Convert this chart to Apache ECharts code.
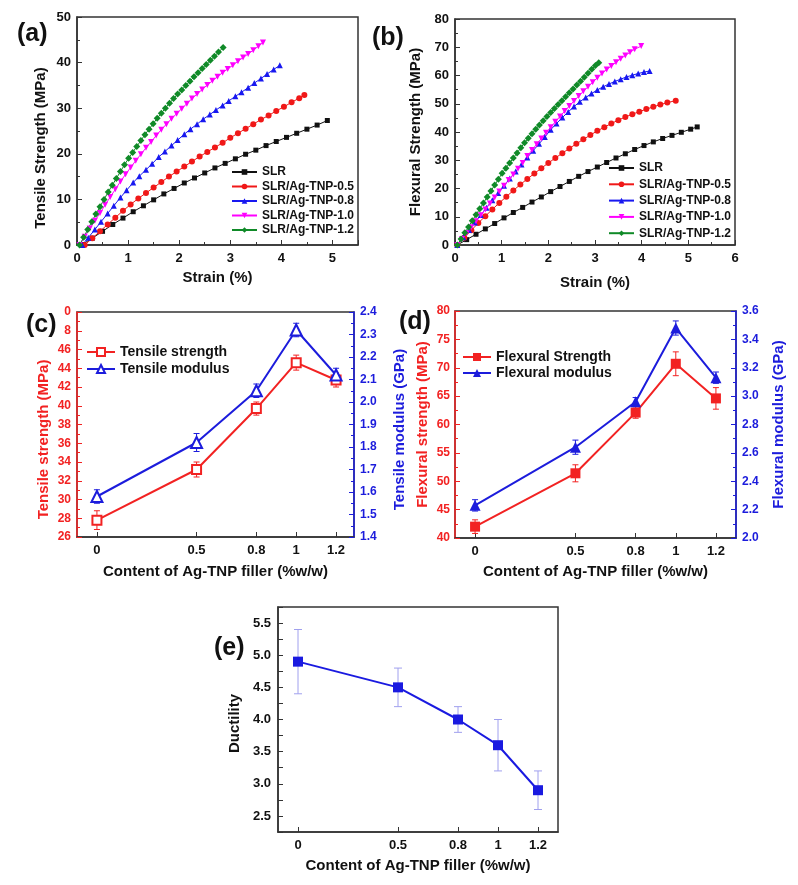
<!DOCTYPE html>
<html>
<head>
<meta charset="utf-8">
<script src="https://cdn.jsdelivr.net/npm/echarts@6/dist/echarts.min.js"></script>
<style>
  html, body { margin: 0; padding: 0; background: #fff; }
  #chart { width: 798px; height: 885px; }
</style>
</head>
<body>
<div id="chart"></div>
<script>
// (a) tensile stress-strain curves: [strain %, stress MPa]
const aSLR = [[0.1,0.1],[0.3,1.5],[0.5,3.0],[0.7,4.5],[0.9,5.9],[1.1,7.3],[1.3,8.6],[1.5,9.9],[1.7,11.2],[1.9,12.4],[2.1,13.6],[2.3,14.7],[2.5,15.8],[2.7,16.9],[2.9,17.9],[3.1,18.9],[3.3,19.9],[3.5,20.8],[3.7,21.8],[3.9,22.7],[4.1,23.6],[4.3,24.5],[4.5,25.4],[4.7,26.3],[4.9,27.3]];
const aAg05 = [[0.15,0.0],[0.3,1.5],[0.45,3.0],[0.6,4.5],[0.75,6.0],[0.9,7.5],[1.05,8.9],[1.2,10.2],[1.35,11.4],[1.5,12.6],[1.65,13.8],[1.8,15.0],[1.95,16.1],[2.1,17.2],[2.25,18.3],[2.4,19.4],[2.55,20.4],[2.7,21.4],[2.85,22.4],[3.0,23.5],[3.15,24.5],[3.3,25.5],[3.45,26.5],[3.6,27.5],[3.75,28.4],[3.9,29.4],[4.05,30.3],[4.2,31.3],[4.35,32.2],[4.45,32.9]];
const aAg08 = [[0.10,0.0],[0.22,1.6],[0.35,3.4],[0.47,5.1],[0.60,6.9],[0.72,8.6],[0.85,10.4],[0.97,12.0],[1.10,13.7],[1.22,15.1],[1.35,16.5],[1.47,17.8],[1.60,19.3],[1.72,20.5],[1.85,21.8],[1.97,23.0],[2.10,24.3],[2.22,25.4],[2.35,26.5],[2.47,27.6],[2.60,28.6],[2.72,29.6],[2.85,30.6],[2.97,31.6],[3.10,32.6],[3.22,33.5],[3.35,34.5],[3.47,35.5],[3.60,36.5],[3.72,37.5],[3.85,38.5],[3.97,39.4]];
const aAg10 = [[0.05,0.0],[0.15,1.8],[0.25,3.6],[0.35,5.3],[0.45,7.0],[0.55,8.8],[0.65,10.5],[0.75,12.2],[0.85,13.9],[0.95,15.5],[1.05,17.0],[1.15,18.5],[1.25,19.9],[1.35,21.3],[1.45,22.6],[1.55,24.0],[1.65,25.3],[1.75,26.5],[1.85,27.7],[1.95,28.8],[2.05,29.9],[2.15,31.0],[2.25,32.1],[2.35,33.1],[2.45,34.1],[2.55,35.1],[2.65,36.0],[2.75,36.9],[2.85,37.8],[2.95,38.6],[3.05,39.4],[3.15,40.3],[3.25,41.1],[3.35,41.9],[3.45,42.7],[3.55,43.6],[3.64,44.4]];
const aAg12 = [[0.05,0.0],[0.13,1.7],[0.21,3.4],[0.29,5.1],[0.37,6.8],[0.45,8.4],[0.53,10.0],[0.61,11.6],[0.69,13.1],[0.77,14.6],[0.85,16.1],[0.93,17.6],[1.01,19.0],[1.09,20.3],[1.17,21.6],[1.25,22.9],[1.33,24.2],[1.41,25.4],[1.49,26.6],[1.57,27.8],[1.65,28.9],[1.73,30.0],[1.81,31.1],[1.89,32.1],[1.97,33.1],[2.05,34.0],[2.13,35.0],[2.21,35.9],[2.29,36.9],[2.37,37.8],[2.45,38.7],[2.53,39.6],[2.61,40.5],[2.69,41.4],[2.77,42.3],[2.86,43.3]];

// (b) flexural stress-strain curves
const bSLR = [[0.05,0.0],[0.25,1.9],[0.45,3.8],[0.65,5.7],[0.85,7.6],[1.05,9.6],[1.25,11.5],[1.45,13.3],[1.65,15.2],[1.85,17.0],[2.05,18.9],[2.25,20.7],[2.45,22.5],[2.65,24.3],[2.85,26.0],[3.05,27.6],[3.25,29.2],[3.45,30.8],[3.65,32.3],[3.85,33.8],[4.05,35.2],[4.25,36.5],[4.45,37.7],[4.65,38.8],[4.85,39.9],[5.05,41.0],[5.19,41.8]];
const bAg05 = [[0.05,0.0],[0.20,2.6],[0.35,5.2],[0.50,7.8],[0.65,10.2],[0.80,12.6],[0.95,14.9],[1.10,17.1],[1.25,19.3],[1.40,21.4],[1.55,23.4],[1.70,25.3],[1.85,27.2],[2.00,29.0],[2.15,30.8],[2.30,32.5],[2.45,34.2],[2.60,35.8],[2.75,37.4],[2.90,38.9],[3.05,40.4],[3.20,41.7],[3.35,43.0],[3.50,44.2],[3.65,45.3],[3.80,46.3],[3.95,47.2],[4.10,48.1],[4.25,48.9],[4.40,49.7],[4.55,50.4],[4.73,51.1]];
const bAg08 = [[0.05,0.0],[0.175,2.7],[0.3,5.3],[0.425,8.0],[0.55,10.6],[0.675,13.2],[0.8,15.8],[0.925,18.4],[1.05,21.0],[1.175,23.5],[1.3,26.0],[1.425,28.5],[1.55,31.0],[1.675,33.4],[1.8,35.8],[1.925,38.2],[2.05,40.8],[2.175,43.0],[2.3,45.1],[2.425,47.1],[2.55,49.0],[2.675,50.7],[2.8,52.2],[2.925,53.6],[3.05,54.9],[3.175,56.0],[3.3,57.0],[3.425,57.9],[3.55,58.7],[3.675,59.5],[3.8,60.1],[3.925,60.7],[4.05,61.2],[4.17,61.6]];
const bAg10 = [[0.05,0.0],[0.15,2.1],[0.25,4.2],[0.35,6.3],[0.45,8.4],[0.55,10.5],[0.65,12.6],[0.75,14.7],[0.85,16.8],[0.95,18.9],[1.05,21.0],[1.15,23.0],[1.25,25.0],[1.35,27.0],[1.45,29.0],[1.55,31.5],[1.65,33.6],[1.75,35.7],[1.85,37.7],[1.95,39.7],[2.05,41.7],[2.15,43.6],[2.25,45.5],[2.35,47.4],[2.45,49.2],[2.55,51.0],[2.65,52.7],[2.75,54.4],[2.85,56.0],[2.95,57.6],[3.05,59.2],[3.15,60.7],[3.25,62.1],[3.35,63.4],[3.45,64.7],[3.55,65.9],[3.65,67.1],[3.75,68.2],[3.85,69.3],[3.99,70.4]];
const bAg12 = [[0.05,0.0],[0.13,2.1],[0.21,4.3],[0.29,6.4],[0.37,8.6],[0.45,10.7],[0.53,12.8],[0.61,14.9],[0.69,17.0],[0.77,19.1],[0.85,21.2],[0.93,23.3],[1.01,25.4],[1.09,27.2],[1.17,29.0],[1.25,30.8],[1.33,32.6],[1.41,34.4],[1.49,36.2],[1.57,37.8],[1.65,39.4],[1.73,41.0],[1.81,42.5],[1.89,44.0],[1.97,45.5],[2.05,46.9],[2.13,48.3],[2.21,49.7],[2.29,51.1],[2.37,52.5],[2.45,53.9],[2.53,55.2],[2.61,56.6],[2.69,58.0],[2.77,59.4],[2.85,60.8],[2.93,62.2],[3.01,63.5],[3.08,64.5]];

const curveNames = ['SLR', 'SLR/Ag-TNP-0.5', 'SLR/Ag-TNP-0.8', 'SLR/Ag-TNP-1.0', 'SLR/Ag-TNP-1.2'];

// (c)(d)(e) vs filler content
const content = [0, 0.5, 0.8, 1, 1.2];
const tensileStrength = [27.8, 33.2, 39.7, 44.6, 42.75];
const tensileStrengthErr = [1.0, 0.8, 0.7, 0.8, 0.75];
const tensileModulus = [1.58, 1.82, 2.05, 2.32, 2.12];
const tensileModulusErr = [0.03, 0.04, 0.03, 0.03, 0.03];
const flexStrength = [42.0, 51.4, 62.1, 70.7, 64.6];
const flexStrengthErr = [1.2, 1.5, 1.0, 2.1, 1.9];
const flexModulus = [2.23, 2.64, 2.96, 3.48, 3.13];
const flexModulusErr = [0.04, 0.05, 0.03, 0.05, 0.04];
const ductility = [4.9, 4.5, 4.0, 3.6, 2.9];
const ductilityErr = [0.5, 0.3, 0.2, 0.4, 0.3];

// tick labels of (c) left axis as printed (top two are clipped in the figure)
const cLeftTicks = [26, 28, 30, 32, 34, 36, 38, 40, 42, 44, 46, 48, 50];
const cLeftLabels = ['26', '28', '30', '32', '34', '36', '38', '40', '42', '44', '46', '8', '0'];

const RED = '#f22222';
const BLUE = '#1c1cdc';
const FONT = 'Liberation Sans, Arial, sans-serif';

const chart = echarts.init(document.getElementById('chart'));

const labelStyle = { fontFamily: FONT, fontWeight: 'bold', fontSize: 13, color: '#111' };
const nameStyle = { fontFamily: FONT, fontWeight: 'bold', fontSize: 15, color: '#111' };

function axisBase(color) {
    return {
        axisLine: { show: true, onZero: false, lineStyle: { color: color || '#333', width: 1.5 } },
        axisTick: { show: true, inside: true, length: 5, lineStyle: { color: color || '#333', width: 1 } },
        minorTick: { show: true, splitNumber: 2, length: 3, lineStyle: { color: color || '#333', width: 1 } },
        splitLine: { show: false },
        minorSplitLine: { show: false },
    };
}

function curve(name, data, color, symbol, size, ai) {
    return {
        name: name, type: 'line', xAxisIndex: ai, yAxisIndex: ai,
        data: data, symbol: symbol, symbolSize: size, showAllSymbol: true,
        lineStyle: { color: color, width: 1 },
        itemStyle: { color: color },
        z: 3,
    };
}

function errBars(xi, yi, ys, es, color, cap) {
    return {
        type: 'custom', xAxisIndex: xi, yAxisIndex: yi, silent: true, z: 2,
        data: content.map((x, i) => [x, ys[i] - es[i], ys[i] + es[i]]),
        encode: { x: 0, y: [1, 2] },
        renderItem(params, api) {
            const lo = api.coord([api.value(0), api.value(1)]);
            const hi = api.coord([api.value(0), api.value(2)]);
            const st = { stroke: color, lineWidth: 1 };
            return {
                type: 'group',
                children: [
                    { type: 'line', shape: { x1: lo[0], y1: lo[1], x2: hi[0], y2: hi[1] }, style: st },
                    { type: 'line', shape: { x1: lo[0] - cap, y1: lo[1], x2: lo[0] + cap, y2: lo[1] }, style: st },
                    { type: 'line', shape: { x1: hi[0] - cap, y1: hi[1], x2: hi[0] + cap, y2: hi[1] }, style: st },
                ]
            };
        }
    };
}

function pts(ys) {
    return content.map((x, i) => [x, ys[i]]);
}

const invTriangle = 'path://M0,0 L10,0 L5,9 Z';
const panelTitle = (text, left, top) => ({
    text: text, left: left, top: top,
    textStyle: { fontFamily: FONT, fontWeight: 'bold', fontSize: 25, color: '#111' }
});
const contentAxis = (gi, gap) => Object.assign(axisBase(), {
    type: 'value', gridIndex: gi, min: -0.1, max: gi === 2 ? 1.29 : 1.3,
    name: 'Content of Ag-TNP filler (%w/w)', nameLocation: 'middle', nameGap: gap, nameTextStyle: nameStyle,
    axisTick: { show: true, inside: true, length: 5, customValues: content, lineStyle: { color: '#333' } },
    minorTick: { show: false },
    axisLabel: Object.assign({ customValues: content, margin: 7 }, labelStyle),
});
const legendText = (size) => ({ fontFamily: FONT, fontWeight: 'bold', fontSize: size, color: '#111' });

const option = {
    backgroundColor: '#fff',
    animation: false,
    textStyle: { fontFamily: FONT },
    title: [
        panelTitle('(a)', 12, 17),
        panelTitle('(b)', 367, 21),
        panelTitle('(c)', 21, 308),
        panelTitle('(d)', 394, 305),
        panelTitle('(e)', 209, 631),
    ],
    grid: [
        { left: 77, top: 17, width: 281, height: 228, show: true, borderColor: '#333', borderWidth: 1.5 },
        { left: 455, top: 19, width: 280, height: 226, show: true, borderColor: '#333', borderWidth: 1.5 },
        { left: 77, top: 312, width: 277, height: 225, show: true, borderColor: '#333', borderWidth: 1.5 },
        { left: 455, top: 311, width: 281, height: 227, show: true, borderColor: '#333', borderWidth: 1.5 },
        { left: 278, top: 607, width: 280, height: 225, show: true, borderColor: '#333', borderWidth: 1.5 },
    ],
    legend: [
        {
            data: curveNames, orient: 'vertical', left: 226, top: 161,
            itemWidth: 25, itemHeight: 7, itemGap: 2.5, textStyle: legendText(12)
        },
        {
            data: curveNames, orient: 'vertical', left: 603, top: 157,
            itemWidth: 25, itemHeight: 7, itemGap: 4.3, textStyle: legendText(12)
        },
        {
            data: ['Tensile strength', 'Tensile modulus'], orient: 'vertical', left: 81, top: 340,
            itemWidth: 28, itemHeight: 10, itemGap: 3, itemTextGap: 3, textStyle: legendText(14)
        },
        {
            data: ['Flexural Strength', 'Flexural modulus'], orient: 'vertical', left: 457, top: 345,
            itemWidth: 28, itemHeight: 10, itemGap: 2, itemTextGap: 3, textStyle: legendText(14)
        },
    ],
    xAxis: [
        Object.assign(axisBase(), {
            type: 'value', gridIndex: 0, min: 0, max: 5.5, interval: 1,
            name: 'Strain (%)', nameLocation: 'middle', nameGap: 25, nameTextStyle: nameStyle,
            axisLabel: Object.assign({ margin: 7, formatter: v => Number.isInteger(v) ? String(v) : '' }, labelStyle),
        }),
        Object.assign(axisBase(), {
            type: 'value', gridIndex: 1, min: 0, max: 6, interval: 1,
            name: 'Strain (%)', nameLocation: 'middle', nameGap: 30, nameTextStyle: nameStyle,
            axisLabel: Object.assign({ margin: 7 }, labelStyle),
        }),
        contentAxis(2, 27),
        contentAxis(3, 26),
        contentAxis(4, 26),
    ],
    yAxis: [
        Object.assign(axisBase(), {
            type: 'value', gridIndex: 0, min: 0, max: 50, interval: 10,
            name: 'Tensile Strength (MPa)', nameLocation: 'middle', nameGap: 29,
            nameTextStyle: Object.assign({}, nameStyle, { padding: [0, 34, 0, 0] }),
            axisLabel: Object.assign({ margin: 6 }, labelStyle),
        }),
        Object.assign(axisBase(), {
            type: 'value', gridIndex: 1, min: 0, max: 80, interval: 10,
            name: 'Flexural Strength (MPa)', nameLocation: 'middle', nameGap: 32, nameTextStyle: nameStyle,
            axisLabel: Object.assign({ margin: 6 }, labelStyle),
        }),
        Object.assign(axisBase(RED), {
            type: 'value', gridIndex: 2, min: 26, max: 50, interval: 2, position: 'left',
            name: 'Tensile strength (MPa)', nameLocation: 'middle', nameGap: 26,
            nameTextStyle: Object.assign({}, nameStyle, { color: RED, padding: [0, 30, 0, 0] }),
            axisLabel: Object.assign({}, labelStyle, {
                margin: 6, color: RED, fontSize: 12,
                formatter: v => cLeftLabels[cLeftTicks.indexOf(v)] || ''
            }),
        }),
        Object.assign(axisBase(BLUE), {
            type: 'value', gridIndex: 2, min: 1.4, max: 2.4, interval: 0.1, position: 'right',
            name: 'Tensile modulus (GPa)', nameLocation: 'middle', nameGap: 38,
            nameTextStyle: Object.assign({}, nameStyle, { color: BLUE, padding: [0, 10, 0, 0] }),
            axisLabel: Object.assign({}, labelStyle, { margin: 6, color: BLUE, fontSize: 12, formatter: v => v.toFixed(1) }),
        }),
        Object.assign(axisBase(RED), {
            type: 'value', gridIndex: 3, min: 40, max: 80, interval: 5, position: 'left',
            name: 'Flexural strength (MPa)', nameLocation: 'middle', nameGap: 25,
            nameTextStyle: Object.assign({}, nameStyle, { color: RED }),
            axisLabel: Object.assign({}, labelStyle, { margin: 5, color: RED, fontSize: 12 }),
        }),
        Object.assign(axisBase(BLUE), {
            type: 'value', gridIndex: 3, min: 2.0, max: 3.6, interval: 0.2, position: 'right',
            name: 'Flexural modulus (GPa)', nameLocation: 'middle', nameGap: 35,
            nameTextStyle: Object.assign({}, nameStyle, { color: BLUE }),
            axisLabel: Object.assign({}, labelStyle, { margin: 6, color: BLUE, fontSize: 12, formatter: v => v.toFixed(1) }),
        }),
        Object.assign(axisBase(), {
            type: 'value', gridIndex: 4, min: 2.25, max: 5.75, interval: 0.25,
            name: 'Ductility', nameLocation: 'middle', nameGap: 36,
            nameTextStyle: Object.assign({}, nameStyle, { padding: [0, 8, 0, 0] }),
            minorTick: { show: false },
            axisLabel: Object.assign({}, labelStyle, {
                margin: 7,
                formatter: v => (Math.abs(v * 2 - Math.round(v * 2)) < 1e-6 && v > 2.4 && v < 5.6) ? v.toFixed(1) : ''
            }),
        }),
    ],
    series: [
        curve(curveNames[0], aSLR, '#111', 'rect', 5, 0),
        curve(curveNames[1], aAg05, '#f01818', 'circle', 6, 0),
        curve(curveNames[2], aAg08, '#1818f0', 'triangle', 6, 0),
        curve(curveNames[3], aAg10, '#ff00ff', invTriangle, 6, 0),
        curve(curveNames[4], aAg12, '#108a28', 'diamond', 7, 0),

        curve(curveNames[0], bSLR, '#111', 'rect', 5, 1),
        curve(curveNames[1], bAg05, '#f01818', 'circle', 6, 1),
        curve(curveNames[2], bAg08, '#1818f0', 'triangle', 6, 1),
        curve(curveNames[3], bAg10, '#ff00ff', invTriangle, 6, 1),
        curve(curveNames[4], bAg12, '#108a28', 'diamond', 7, 1),

        errBars(2, 2, tensileStrength, tensileStrengthErr, RED, 3),
        errBars(2, 3, tensileModulus, tensileModulusErr, BLUE, 3),
        {
            name: 'Tensile strength', type: 'line', xAxisIndex: 2, yAxisIndex: 2,
            data: pts(tensileStrength), symbol: 'emptyRect', symbolSize: 9,
            lineStyle: { color: RED, width: 2 }, itemStyle: { color: RED, borderWidth: 1 }, z: 3
        },
        {
            name: 'Tensile modulus', type: 'line', xAxisIndex: 2, yAxisIndex: 3,
            data: pts(tensileModulus), symbol: 'emptyTriangle', symbolSize: 11,
            lineStyle: { color: BLUE, width: 2 }, itemStyle: { color: BLUE, borderWidth: 1 }, z: 3
        },

        errBars(3, 4, flexStrength, flexStrengthErr, RED, 3),
        errBars(3, 5, flexModulus, flexModulusErr, BLUE, 3),
        {
            name: 'Flexural Strength', type: 'line', xAxisIndex: 3, yAxisIndex: 4,
            data: pts(flexStrength), symbol: 'rect', symbolSize: 10,
            lineStyle: { color: RED, width: 2 }, itemStyle: { color: RED }, z: 3
        },
        {
            name: 'Flexural modulus', type: 'line', xAxisIndex: 3, yAxisIndex: 5,
            data: pts(flexModulus), symbol: 'triangle', symbolSize: 11,
            lineStyle: { color: BLUE, width: 2 }, itemStyle: { color: BLUE }, z: 3
        },

        errBars(4, 6, ductility, ductilityErr, '#a0a0ee', 4),
        {
            name: 'Ductility', type: 'line', xAxisIndex: 4, yAxisIndex: 6,
            data: pts(ductility), symbol: 'rect', symbolSize: 10,
            lineStyle: { color: '#1a1ae0', width: 2 }, itemStyle: { color: '#1a1ae0' }, z: 3
        },
    ]
};

chart.setOption(option);
</script>
</body>
</html>
